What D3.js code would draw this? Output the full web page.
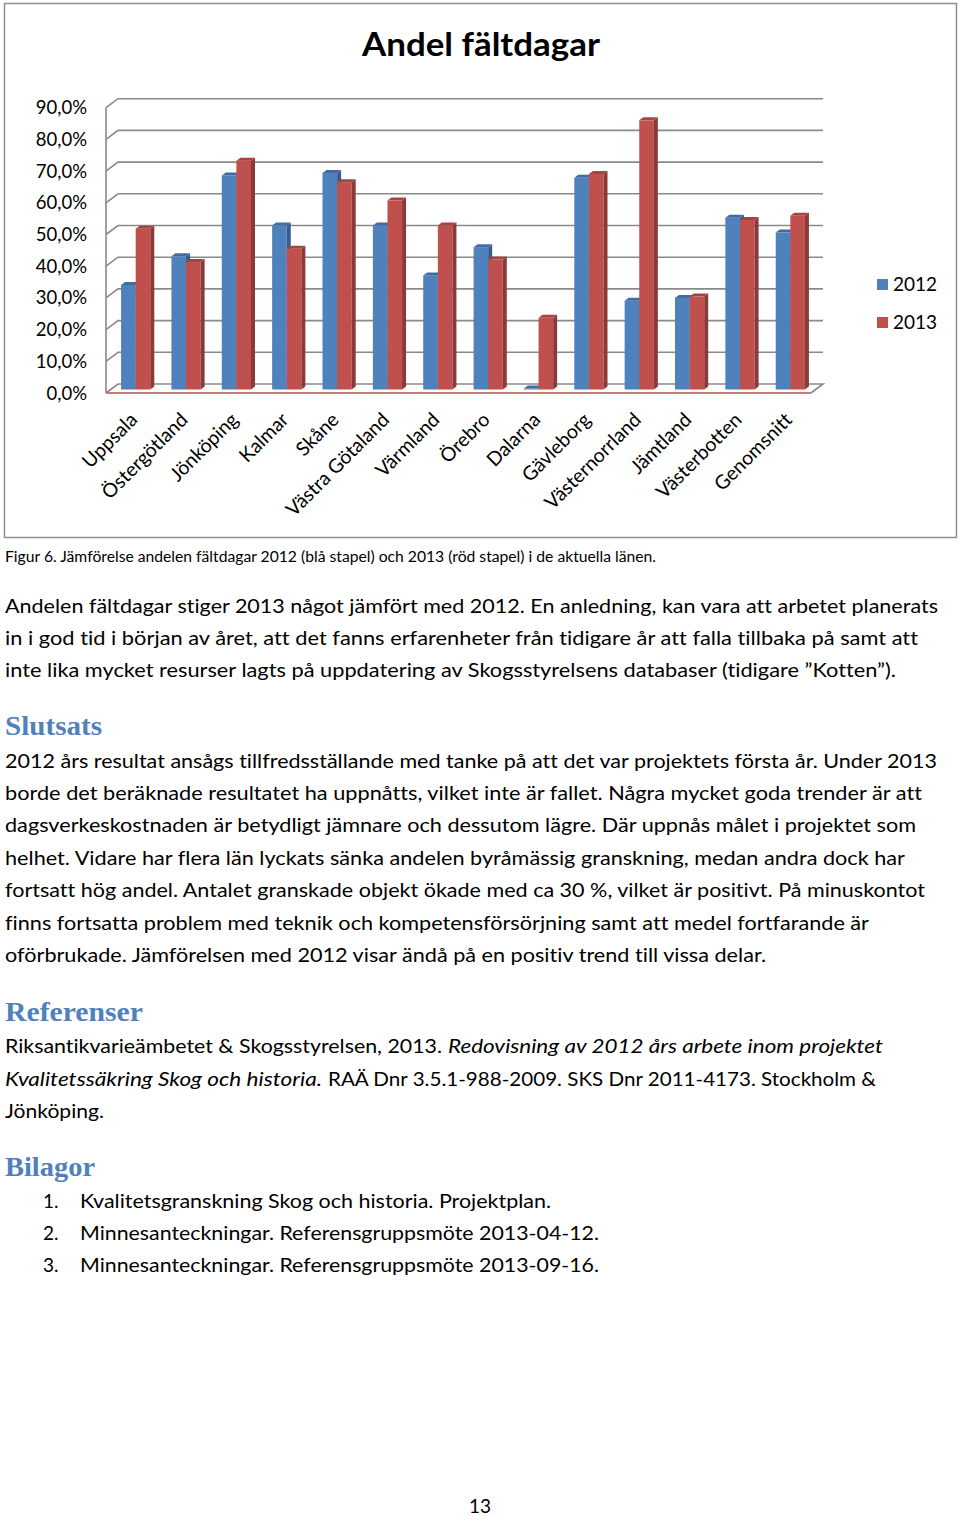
<!DOCTYPE html>
<html>
<head>
<meta charset="utf-8">
<script src="https://cdn.jsdelivr.net/npm/d3@7"></script>
<style>
  body { margin: 0; background: #fff; }
  svg text { font-family: Lato, "Open Sans", sans-serif; fill: #000; font-variant-ligatures: none; font-feature-settings: "liga" 0, "clig" 0; }
</style>
</head>
<body>
<div id="page"></div>
<script>
// Chart data.
const categories = ["Uppsala", "Östergötland", "Jönköping", "Kalmar", "Skåne", "Västra Götaland",
  "Värmland", "Örebro", "Dalarna", "Gävleborg", "Västernorrland", "Jämtland", "Västerbotten", "Genomsnitt"];
const series = ["2012", "2013"];
const values2012 = [0.330, 0.420, 0.675, 0.517, 0.683, 0.517, 0.360, 0.449, 0.003, 0.668, 0.280, 0.289, 0.542, 0.495];
const values2013 = [0.507, 0.402, 0.722, 0.444, 0.654, 0.596, 0.517, 0.410, 0.226, 0.680, 0.849, 0.293, 0.535, 0.548];
const yTicks = [0, 0.1, 0.2, 0.3, 0.4, 0.5, 0.6, 0.7, 0.8, 0.9];

const colors = {
  "2012": { front: "#4f81bd", side: "#385d8a", top: "#3f6ca3" },
  "2013": { front: "#c0504d", side: "#8c3a38", top: "#a54542" }
};

// Document text around the chart.
const caption = "Figur 6. Jämförelse andelen fältdagar 2012 (blå stapel) och 2013 (röd stapel) i de aktuella länen.";
const introLines = [
  "Andelen fältdagar stiger 2013 något jämfört med 2012. En anledning, kan vara att arbetet planerats",
  "in i god tid i början av året, att det fanns erfarenheter från tidigare år  att falla tillbaka på samt att",
  "inte lika mycket resurser lagts på uppdatering av Skogsstyrelsens databaser (tidigare ”Kotten”)."
];
const introWidths = [933, 913, 891];
const slutsatsLines = [
  "2012 års resultat ansågs tillfredsställande med tanke på att det var projektets första år. Under 2013",
  "borde det beräknade resultatet ha uppnåtts, vilket inte är fallet. Några mycket goda trender är att",
  "dagsverkeskostnaden är betydligt jämnare och dessutom lägre. Där uppnås målet i projektet som",
  "helhet. Vidare har flera län lyckats sänka andelen byråmässig granskning, medan andra dock har",
  "fortsatt hög andel. Antalet granskade objekt ökade med ca 30 %, vilket är positivt. På minuskontot",
  "finns fortsatta problem med teknik och kompetensförsörjning samt att medel fortfarande är",
  "oförbrukade. Jämförelsen med 2012 visar ändå på en positiv trend till vissa delar."
];
const slutsatsWidths = [932, 917, 911, 900, 920, 864, 761];
const bilagor = [
  "Kvalitetsgranskning Skog och historia. Projektplan.",
  "Minnesanteckningar. Referensgruppsmöte 2013-04-12.",
  "Minnesanteckningar. Referensgruppsmöte 2013-09-16."
];
const bilagorWidths = [471, 519, 519];

const width = 960;
const height = 1516;

const svg = d3.select("#page").append("svg")
  .attr("width", width)
  .attr("height", height);

// Chart frame
svg.append("rect")
  .attr("x", 4.5).attr("y", 3.5)
  .attr("width", 952).attr("height", 534)
  .attr("fill", "#fff")
  .attr("stroke", "#8f8f8f")
  .attr("stroke-width", 1.5);

svg.append("text")
  .attr("x", 362).attr("y", 56)
  .attr("font-size", 33).attr("font-weight", "bold")
  .attr("textLength", 238).attr("lengthAdjust", "spacingAndGlyphs")
  .text("Andel fältdagar");

// Pseudo 3D geometry: back wall offset from the front floor edge.
const depth = { dx: 12, dy: 9 };
const barDepth = { dx: 4, dy: 3 };
const frontLeft = 106, frontRight = 811, frontBase = 393;
const barBase = 389.5;

const y = d3.scaleLinear()
  .domain([0, 0.9])
  .range([barBase, barBase - 285.3]);
const yBack = v => y(v) - (barBase - (frontBase - depth.dy));
const yFront = v => yBack(v) + depth.dy;

const x = d3.scaleBand()
  .domain(categories)
  .range([frontLeft + 4.5, frontRight + 4.5])
  .paddingInner(0.42)
  .paddingOuter(0.21);

const xSub = d3.scaleBand()
  .domain(series)
  .range([0, x.bandwidth()]);

const pct = d3.formatLocale({ decimal: ",", thousands: " ", grouping: [3], currency: ["", " kr"] }).format(".1%");

// Gridlines: slanted on the side wall, flat on the back wall.
const grid = svg.append("g")
  .attr("stroke", "#8a8a8a")
  .attr("stroke-width", 1.6)
  .attr("fill", "none");

grid.selectAll("path.grid")
  .data(yTicks.filter(d => d > 0))
  .enter()
  .append("path")
  .attr("class", "grid")
  .attr("d", d => `M${frontLeft},${yFront(d)}L${frontLeft + depth.dx},${yBack(d)}L${frontRight + depth.dx},${yBack(d)}`);

grid.append("line")
  .attr("x1", frontLeft).attr("x2", frontLeft)
  .attr("y1", yFront(0.9)).attr("y2", frontBase);

// Floor
grid.append("path")
  .attr("d", `M${frontLeft},${frontBase}L${frontLeft + depth.dx},${yBack(0)}L${frontRight + depth.dx},${yBack(0)}L${frontRight},${frontBase}`);
svg.append("line")
  .attr("x1", frontLeft).attr("x2", frontRight)
  .attr("y1", frontBase).attr("y2", frontBase)
  .attr("stroke", "#c87a78")
  .attr("stroke-width", 1.8);

// Y tick labels
svg.append("g")
  .selectAll("text")
  .data(yTicks)
  .enter()
  .append("text")
  .attr("x", 87)
  .attr("y", d => yFront(d) + 6.5)
  .attr("text-anchor", "end")
  .attr("font-size", 18.5)
  .text(d => pct(d));

// Bars
const rows = categories.flatMap((c, i) => [
  { cat: c, key: "2012", value: values2012[i] },
  { cat: c, key: "2013", value: values2013[i] }
]);

const bar = svg.append("g")
  .selectAll("g")
  .data(rows)
  .enter()
  .append("g");

bar.append("rect")
  .attr("x", d => x(d.cat) + xSub(d.key))
  .attr("y", d => y(d.value))
  .attr("width", xSub.bandwidth())
  .attr("height", d => barBase - y(d.value))
  .attr("fill", d => colors[d.key].front);

bar.append("path")
  .attr("fill", d => colors[d.key].side)
  .attr("d", d => {
    const x1 = x(d.cat) + xSub(d.key) + xSub.bandwidth();
    return `M${x1},${y(d.value)}l${barDepth.dx},${-barDepth.dy}L${x1 + barDepth.dx},${barBase - barDepth.dy}L${x1},${barBase}Z`;
  });

bar.append("path")
  .attr("fill", d => colors[d.key].top)
  .attr("d", d => {
    const x0 = x(d.cat) + xSub(d.key);
    const yt = y(d.value);
    return `M${x0},${yt}l${barDepth.dx},${-barDepth.dy}h${xSub.bandwidth()}l${-barDepth.dx},${barDepth.dy}Z`;
  });

// Category labels
svg.append("g")
  .selectAll("text")
  .data(categories)
  .enter()
  .append("text")
  .attr("text-anchor", "end")
  .attr("font-size", 19.5)
  .attr("transform", d => `translate(${x(d) + x.bandwidth() / 2 + 3},${frontBase + 28}) rotate(-45)`)
  .text(d => d);

// Legend
const legend = svg.append("g")
  .selectAll("g")
  .data(series)
  .enter()
  .append("g")
  .attr("transform", (d, i) => `translate(877,${279 + i * 38})`);

legend.append("rect")
  .attr("width", 11).attr("height", 11)
  .attr("fill", d => colors[d].front);

legend.append("text")
  .attr("x", 16).attr("y", 12)
  .attr("font-size", 19)
  .text(d => d);

// Document text
function line(t, xPos, yPos, w, size, extra) {
  const el = svg.append("text")
    .attr("x", xPos).attr("y", yPos)
    .attr("font-size", size)
    .text(t);
  if (w) el.attr("textLength", w).attr("lengthAdjust", "spacingAndGlyphs");
  if (extra) extra(el);
  return el;
}

function heading(t, yPos, w) {
  line(t, 5, yPos, w, 27, el => el
    .style("font-family", "'Liberation Serif', 'DejaVu Serif', serif")
    .style("fill", "#4f81bd")
    .attr("font-weight", "bold"));
}

const italic = el => el.attr("font-style", "italic");

line(caption, 5, 562, 651, 14.5);

introLines.forEach((t, i) => line(t, 5, 612.5 + i * 32.4, introWidths[i], 19));

heading("Slutsats", 735, 97);
slutsatsLines.forEach((t, i) => line(t, 5, 767.5 + i * 32.4, slutsatsWidths[i], 19));

heading("Referenser", 1021, 138);
line("Riksantikvarieämbetet & Skogsstyrelsen, 2013.", 5, 1053, 437, 19);
line("Redovisning av 2012 års arbete inom projektet", 448, 1053, 435, 19, italic);
line("Kvalitetssäkring Skog och historia.", 5, 1085.5, 317, 19, italic);
line("RAÄ Dnr 3.5.1-988-2009. SKS Dnr 2011-4173. Stockholm &", 328, 1085.5, 548, 19);
line("Jönköping.", 5, 1118, 99, 19);

heading("Bilagor", 1176, 90);
bilagor.forEach((t, i) => {
  line(`${i + 1}.`, 43, 1207.5 + i * 32.4, null, 19);
  line(t, 80, 1207.5 + i * 32.4, bilagorWidths[i], 19);
});

line("13", 480, 1513, null, 19, el => el.attr("text-anchor", "middle"));
</script>
</body>
</html>
